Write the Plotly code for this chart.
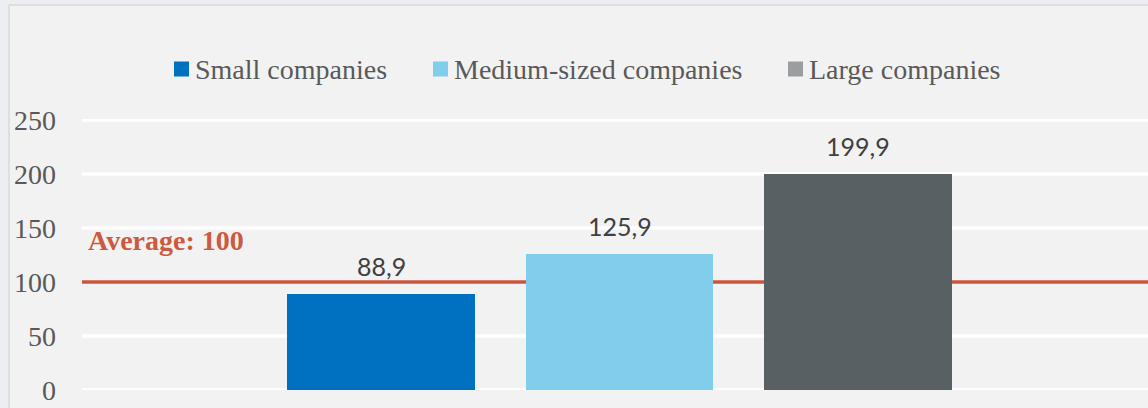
import plotly.graph_objects as go

categories = ["Small companies", "Medium-sized companies", "Large companies"]
values = [88.9, 125.9, 199.9]
bar_colors = ["#0070c0", "#80cdec", "#586063"]
legend_colors = ["#0070c0", "#80cdec", "#9a9ea1"]
average = 100
tick_vals = [0, 50, 100, 150, 200, 250]

SERIF = "Liberation Serif"
SANS = "Lato"

# layout geometry (pixels)
W, H = 1148, 408
ML, MR, MT, MB = 82, 0, 119, 18
PW, PH = W - ML - MR, H - MT - MB


def px(x):
    return (x - ML) / PW


def py(y):
    return (H - MB - y) / PH


legend_swatch_x = [174, 433, 788]   # left edge of each legend swatch
legend_y = 69
swatch = 15

fig = go.Figure()

for cat, val, col in zip(categories, values, bar_colors):
    fig.add_trace(go.Bar(x=[cat], y=[val], marker=dict(color=col, line=dict(width=0)),
                         width=0.788, showlegend=False, hoverinfo="skip"))

for cat, val in zip(categories, values):
    fig.add_annotation(x=cat, y=val, xref="x", yref="y", text=f"{val:.1f}".replace(".", ","),
                       showarrow=False, yanchor="bottom", yshift=11,
                       font=dict(family=SANS, size=25, color="#404040"))

# gridlines (drawn as shapes so the average line can sit above them and below the bars)
for tv in tick_vals:
    fig.add_shape(type="line", xref="x domain", yref="y", x0=0, x1=1, y0=tv, y1=tv,
                  line=dict(color="#ffffff", width=3.5), layer="below")

# average line
fig.add_shape(type="line", xref="x domain", yref="y", x0=0, x1=1, y0=average, y1=average,
              line=dict(color="#c9553d", width=3.5), layer="below")
fig.add_annotation(xref="paper", yref="y", x=px(86), y=average, xanchor="left", yanchor="bottom",
                   yshift=24, showarrow=False, text=f"<b>Average: {average}</b>",
                   font=dict(family=SERIF, size=28, color="#cc5a3e"))

# legend (manual, to match swatch spacing)
for cat, col, sx in zip(categories, legend_colors, legend_swatch_x):
    fig.add_shape(type="rect", xref="paper", yref="paper",
                  x0=px(sx), x1=px(sx + swatch), y0=py(legend_y - swatch / 2), y1=py(legend_y + swatch / 2),
                  fillcolor=col, line=dict(width=0), layer="above")
    fig.add_annotation(xref="paper", yref="paper", x=px(sx + swatch + 4), y=py(legend_y),
                       xanchor="left", yanchor="middle", showarrow=False, text=cat,
                       font=dict(family=SERIF, size=28, color="#595959"))

# outer frame outside the chart panel
outer = "#eceef1"
fig.add_shape(type="rect", xref="paper", yref="paper", x0=px(-5), x1=px(W + 5), y0=py(5), y1=py(-5),
              fillcolor=outer, line=dict(width=0), layer="above")
fig.add_shape(type="rect", xref="paper", yref="paper", x0=px(-5), x1=px(9), y0=py(H + 5), y1=py(-5),
              fillcolor=outer, line=dict(width=0), layer="above")
fig.add_shape(type="line", xref="paper", yref="paper", x0=px(9), x1=px(W + 5), y0=py(5), y1=py(5),
              line=dict(color="#d9d9d9", width=1.5), layer="above")
fig.add_shape(type="line", xref="paper", yref="paper", x0=px(9), x1=px(9), y0=py(5), y1=py(H + 5),
              line=dict(color="#d9d9d9", width=1.5), layer="above")

fig.update_layout(
    width=W, height=H,
    margin=dict(l=ML, r=MR, t=MT, b=MB),
    paper_bgcolor="#f2f2f2",
    plot_bgcolor="rgba(0,0,0,0)",
    barmode="overlay",
    bargap=0,
    showlegend=False,
    xaxis=dict(type="category", categoryorder="array", categoryarray=categories,
               range=[-1.2537, 3.216], showticklabels=False, showgrid=False,
               zeroline=False, showline=False, ticks="", fixedrange=True),
    yaxis=dict(range=[0, 251], tickvals=tick_vals, showgrid=False,
               zeroline=False, showline=False, ticks="",
               tickfont=dict(family=SERIF, size=28, color="#595959"), ticklabelstandoff=25),
)

fig.write_html("out.html")
